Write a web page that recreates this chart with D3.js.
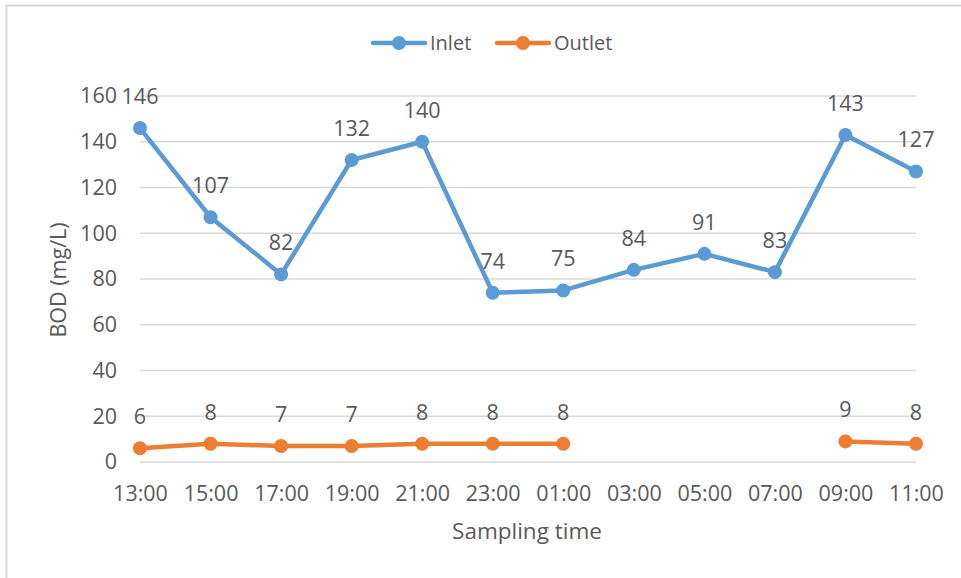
<!DOCTYPE html>
<html>
<head>
<meta charset="utf-8">
<script src="https://cdn.jsdelivr.net/npm/d3@7"></script>
<style>
  body { margin: 0; background: #fff; }
  text { font-family: "Open Sans", sans-serif; fill: #595959; }
</style>
</head>
<body>
<div class="chart"></div>
<script>
// chart data
const times = ["13:00", "15:00", "17:00", "19:00", "21:00", "23:00", "01:00", "03:00", "05:00", "07:00", "09:00", "11:00"];
const inlet = [146, 107, 82, 132, 140, 74, 75, 84, 91, 83, 143, 127];
const outlet = [6, 8, 7, 7, 8, 8, 8, null, null, null, 9, 8];
const yTicks = [0, 20, 40, 60, 80, 100, 120, 140, 160];

const WIDTH = 961;
const HEIGHT = 578;
const FONT = 21.5;

const series = [
    { name: "Inlet", values: inlet, color: "#5B9BD5" },
    { name: "Outlet", values: outlet, color: "#ED7D31" }
];

const svg = d3.select(".chart")
    .append("svg")
    .attr("width", WIDTH)
    .attr("height", HEIGHT);

// outer chart border (only top and left are visible)
svg.append("rect")
    .attr("x", 6.5)
    .attr("y", 5.5)
    .attr("width", WIDTH + 20)
    .attr("height", HEIGHT + 20)
    .attr("fill", "none")
    .attr("stroke", "#D9D9D9")
    .attr("stroke-width", 2);

const x = d3.scalePoint()
    .domain(times)
    .range([140, 916]);

const y = d3.scaleLinear()
    .domain([0, 160])
    .range([462, 96]);

// gridlines
svg.append("g")
    .selectAll("line")
    .data(yTicks)
    .enter()
    .append("line")
    .attr("x1", 140)
    .attr("x2", 916)
    .attr("y1", d => y(d))
    .attr("y2", d => y(d))
    .attr("stroke", "#D9D9D9")
    .attr("stroke-width", 1.3);

// y axis labels
const yAxis = d3.axisLeft(y).tickValues(yTicks).tickSize(0).tickPadding(23);
const gy = svg.append("g").attr("transform", "translate(140,0)").call(yAxis);
gy.select(".domain").remove();
gy.selectAll("text").attr("font-size", FONT).attr("font-family", "Open Sans").attr("fill", "#595959");

// x axis labels
const xAxis = d3.axisBottom(x).tickSize(0).tickPadding(24);
const gx = svg.append("g").attr("transform", "translate(0,462)").call(xAxis);
gx.select(".domain").remove();
gx.selectAll("text").attr("font-size", FONT).attr("font-family", "Open Sans").attr("fill", "#595959");

// axis titles
svg.append("text")
    .attr("transform", "translate(66,280) rotate(-90)")
    .attr("text-anchor", "middle")
    .attr("font-size", FONT)
    .text("BOD (mg/L)");

svg.append("text")
    .attr("x", 527)
    .attr("y", 539)
    .attr("text-anchor", "middle")
    .attr("font-size", FONT + 1)
    .text("Sampling time");

// lines, markers, labels
const line = d3.line()
    .defined(d => d.v !== null)
    .x(d => x(d.t))
    .y(d => y(d.v));

series.forEach(s => {
    const pts = times.map((t, i) => ({ t: t, v: s.values[i] }));
    const g = svg.append("g");

    g.append("path")
        .datum(pts)
        .attr("d", line)
        .attr("fill", "none")
        .attr("stroke", s.color)
        .attr("stroke-width", 4.5)
        .attr("stroke-linejoin", "round");

    const valid = pts.filter(d => d.v !== null);

    g.selectAll("circle")
        .data(valid)
        .enter()
        .append("circle")
        .attr("cx", d => x(d.t))
        .attr("cy", d => y(d.v))
        .attr("r", 7)
        .attr("fill", s.color);

    g.selectAll("text")
        .data(valid)
        .enter()
        .append("text")
        .attr("x", d => x(d.t))
        .attr("y", d => y(d.v) - 24)
        .attr("text-anchor", "middle")
        .attr("font-size", FONT)
        .text(d => d.v);
});

// legend
const legendItems = [
    { name: "Inlet", color: "#5B9BD5", x: 371 },
    { name: "Outlet", color: "#ED7D31", x: 495 }
];

const legend = svg.append("g");
legendItems.forEach(d => {
    legend.append("line")
        .attr("x1", d.x + 2)
        .attr("x2", d.x + 54)
        .attr("y1", 43)
        .attr("y2", 43)
        .attr("stroke", d.color)
        .attr("stroke-width", 4.5)
        .attr("stroke-linecap", "round");
    legend.append("circle")
        .attr("cx", d.x + 28)
        .attr("cy", 43)
        .attr("r", 7)
        .attr("fill", d.color);
    legend.append("text")
        .attr("x", d.x + 59)
        .attr("y", 50)
        .attr("font-size", 20)
        .text(d.name);
});
</script>
</body>
</html>
